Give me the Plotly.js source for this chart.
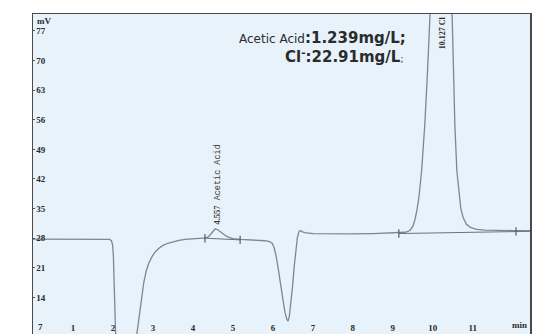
<!DOCTYPE html>
<html>
<head>
<meta charset="utf-8">
<script src="https://cdn.plot.ly/plotly-3.0.1.min.js"></script>
<style>
  html, body { margin: 0; padding: 0; background: #ffffff; }
  #chart { width: 539px; height: 334px; }
</style>
</head>
<body>
<div id="chart"></div>
<script>
// Retention time (min) and detector signal (mV) of the chromatogram
const timeMin = [
  0, 0.5, 1.0, 1.5, 1.85, 1.92, 1.96, 1.99, 2.01, 2.03, 2.05, 2.07, 2.1,
  2.55, 2.6, 2.64, 2.68, 2.72, 2.77, 2.83, 2.9, 2.98, 3.06, 3.15, 3.25, 3.37,
  3.5, 3.65, 3.8, 4.0, 4.25,
  4.3, 4.38, 4.45, 4.5, 4.557, 4.62, 4.7, 4.8, 4.9, 5.0, 5.2, 5.5, 5.8,
  5.92, 5.98, 6.03, 6.08, 6.13, 6.18, 6.24, 6.3, 6.35, 6.38, 6.41, 6.45,
  6.49, 6.53, 6.57, 6.61, 6.65, 6.69, 6.74, 6.8,
  7.0, 7.5, 8.0, 8.5, 9.0, 9.3, 9.38, 9.44, 9.5, 9.55, 9.6, 9.65, 9.72,
  9.8, 9.87, 9.93, 10.0, 10.06, 10.127, 10.2, 10.3, 10.4, 10.48, 10.55,
  10.6, 10.65, 10.7, 10.76, 10.84, 10.95, 11.1, 11.3, 11.6, 12.0, 12.5
];
const signalMv = [
  27.8, 27.8, 27.8, 27.8, 27.8, 27.7, 27.4, 26.5, 24, 19, 12, 4, -20,
  -20, 5.5, 8.5, 11.5, 14.5, 17.5, 20.2, 22.2, 23.7, 24.8, 25.6, 26.3, 26.8,
  27.2, 27.5, 27.7, 27.9, 28.0,
  28.0, 28.3, 29.0, 29.6, 30.2, 30.0, 29.4, 28.7, 28.2, 27.9, 27.7, 27.6, 27.4,
  27.2, 26.8, 25.8, 23.8, 21, 17.8, 14, 10.5, 8.8, 8.4, 9.5, 12.5,
  16.5, 21, 25, 28, 29.5, 29.8, 29.5, 29.3,
  29.1, 29.0, 29.0, 29.1, 29.2, 29.4, 29.6, 30.0, 30.8, 32.3, 34.5, 37.5, 44,
  55, 68, 81, 130, 180, 205, 190, 150, 110, 81, 55,
  44, 38.5, 35, 32.8, 31.3, 30.5, 30.1, 29.9, 29.8, 29.8, 29.8
];

// Integration baselines drawn under each identified peak
const acetBaseT = [4.3, 5.18];
const acetBaseV = [28.0, 27.6];
const clBaseT = [9.15, 12.08, 12.6];
const clBaseV = [29.1, 29.6, 29.65];
const clTickT = [9.15, 12.08];
const clTickV = [29.1, 29.6];

// Axis ticks
const xTicks = [1, 2, 3, 4, 5, 6, 7, 8, 9, 10, 11];
const yTicks = [14, 21, 28, 35, 42, 49, 56, 63, 70, 77];
const yBottomTick = 7;

// Peak labels
const peakTimes = [4.557, 10.127];
const peakNames = ['Acetic Acid', 'Cl'];

const lineColor = '#7b8699';
const textColor = '#2b2b2b';

const traces = [
  {
    x: timeMin, y: signalMv, type: 'scatter', mode: 'lines',
    line: { color: lineColor, width: 1.3 },
    hoverinfo: 'skip'
  },
  {
    x: acetBaseT, y: acetBaseV, type: 'scatter', mode: 'lines+markers',
    line: { color: '#6b7385', width: 1 },
    marker: { symbol: 'line-ns', size: 6, line: { color: '#555c6b', width: 1.2 } },
    hoverinfo: 'skip'
  },
  {
    x: clBaseT, y: clBaseV, type: 'scatter', mode: 'lines',
    line: { color: '#6b7385', width: 1 },
    hoverinfo: 'skip'
  },
  {
    x: clTickT, y: clTickV, type: 'scatter', mode: 'markers',
    marker: { symbol: 'line-ns', size: 6, line: { color: '#555c6b', width: 1.2 } },
    hoverinfo: 'skip'
  }
];

const serif = 'Liberation Serif, DejaVu Serif, serif';
const mono = 'Liberation Mono, DejaVu Sans Mono, monospace';
const sans = 'DejaVu Sans, Liberation Sans, sans-serif';
const tickFont = { family: serif, size: 9, color: textColor, weight: 'bold' };

const layout = {
  width: 539, height: 334,
  margin: { l: 33, r: 9, t: 14, b: 0, pad: 0 },
  paper_bgcolor: '#ffffff',
  plot_bgcolor: '#e7f2fb',
  showlegend: false,
  xaxis: {
    range: [0, 12.43],
    tickvals: xTicks,
    ticktext: xTicks.map(String),
    ticks: '',
    ticklabelposition: 'inside',
    tickfont: tickFont,
    showgrid: false, zeroline: false,
    showline: true, mirror: true, linecolor: '#4a4a4a', linewidth: 1.5
  },
  yaxis: {
    range: [5.35, 81],
    tickvals: yTicks,
    ticktext: yTicks.map(String),
    ticks: 'inside', ticklen: 2, tickcolor: '#555',
    ticklabelposition: 'inside',
    tickfont: tickFont,
    showgrid: false, zeroline: false,
    showline: true, mirror: true, linecolor: '#4a4a4a', linewidth: 1.5
  },
  annotations: [
    {
      xref: 'paper', yref: 'paper', x: 0.004, y: 1.0,
      xanchor: 'left', yanchor: 'top', showarrow: false,
      text: 'mV', font: tickFont
    },
    {
      xref: 'paper', yref: 'y', x: 0.006, y: yBottomTick,
      xanchor: 'left', yanchor: 'middle', showarrow: false,
      text: String(yBottomTick), font: tickFont
    },
    {
      xref: 'paper', yref: 'paper', x: 0.998, y: 0.005,
      xanchor: 'right', yanchor: 'bottom', showarrow: false,
      text: 'min', font: tickFont
    },
    {
      x: peakTimes[0] + 0.05, y: 30.8, xanchor: 'center', yanchor: 'bottom',
      textangle: -90, showarrow: false,
      text: '<span style="font-family:Liberation Serif;font-weight:bold">' +
        peakTimes[0].toFixed(3) + '</span> ' + peakNames[0],
      font: { family: mono, size: 8.5, color: '#3a3a3a' }
    },
    {
      x: peakTimes[1] + 0.12, y: 81, xanchor: 'center', yanchor: 'top',
      textangle: -90, showarrow: false,
      text: '<b>' + peakTimes[1].toFixed(3) + ' ' + peakNames[1] + '</b>',
      font: { family: serif, size: 8, color: textColor }
    },
    {
      x: 5.1, y: 75.3, xanchor: 'left', yanchor: 'middle', showarrow: false,
      text: '<span style="font-size:12px;font-weight:normal">Acetic Acid</span><b>:1.239mg/L;</b>',
      font: { family: sans, size: 15, color: textColor }
    },
    {
      x: 6.25, y: 71.1, xanchor: 'left', yanchor: 'middle', showarrow: false,
      text: '<b>Cl<sup>-</sup>:22.91mg/L</b><span style="font-size:9px">;</span>',
      font: { family: sans, size: 15, color: textColor }
    }
  ]
};

Plotly.newPlot('chart', traces, layout, { staticPlot: true, displayModeBar: false });
</script>
</body>
</html>
